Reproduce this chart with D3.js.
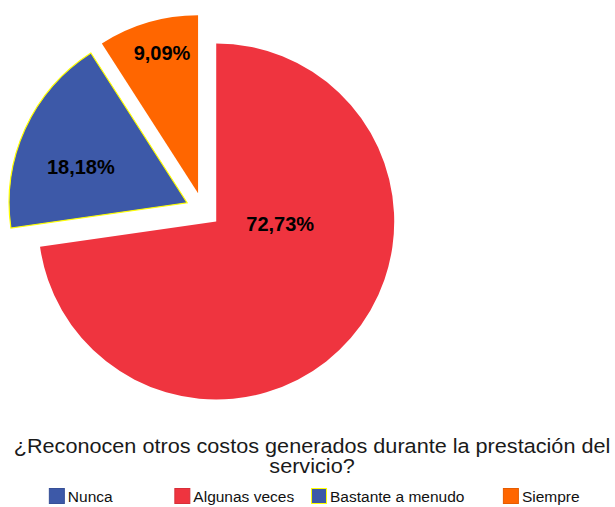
<!DOCTYPE html>
<html>
<head>
<meta charset="utf-8">
<script src="https://cdn.jsdelivr.net/npm/d3@7"></script>
<style>
    html, body { margin: 0; padding: 0; background: #fff; }
    svg { display: block; font-family: "Liberation Sans", Arial, sans-serif; }
</style>
</head>
<body>
<div id="chart"></div>
<script>
const categories = ["Nunca", "Algunas veces", "Bastante a menudo", "Siempre"];
const percentages = [0, 72.73, 18.18, 9.09];
const colours = ["#3d59a8", "#ef343f", "#3d59a8", "#ff6600"];
const outlines = [null, null, "#ffff00", null];
const titleLines = ["¿Reconocen otros costos generados durante la prestación del", "servicio?"];

// where each value label sits inside its slice: t = fraction of the slice angle, k = fraction of radius
const labelPlacement = [null, { t: 0.354, k: 0.36 }, { t: 0.41, k: 0.63 }, { t: 0.56, k: 0.815 }];

document.addEventListener("DOMContentLoaded", () => {
    const width = 615;
    const height = 507;
    const cx = 203;
    const cy = 210;
    const radius = 178;
    const explode = 17.5;

    const data = categories.map((name, i) => ({ name, value: percentages[i], i }));

    const svg = d3.select("#chart").append("svg")
        .attr("width", width)
        .attr("height", height)
        .attr("viewBox", [0, 0, width, height]);

    const pie = d3.pie().sort(null).value((d) => d.value);
    const arc = d3.arc().innerRadius(0).outerRadius(radius);
    const arcs = pie(data).filter((d) => d.value > 0);

    const offset = (d) => {
        const a = (d.startAngle + d.endAngle) / 2;
        return [explode * Math.sin(a), -explode * Math.cos(a)];
    };

    const slices = svg.append("g")
        .attr("transform", `translate(${cx}, ${cy})`)
        .selectAll("g")
        .data(arcs)
        .join("g")
        .attr("transform", (d) => `translate(${offset(d)})`);

    slices.append("path")
        .attr("d", arc)
        .attr("fill", (d) => colours[d.data.i])
        .attr("stroke", (d) => outlines[d.data.i] || "none")
        .attr("stroke-width", 1.2);

    const fmt = (v) => d3.format(".2f")(v).replace(".", ",") + "%";

    slices.append("text")
        .attr("transform", (d) => {
            const p = labelPlacement[d.data.i];
            const a = d.startAngle + p.t * (d.endAngle - d.startAngle);
            const r = p.k * radius;
            return `translate(${r * Math.sin(a)}, ${-r * Math.cos(a)})`;
        })
        .attr("text-anchor", "middle")
        .attr("dominant-baseline", "central")
        .attr("font-size", 20)
        .attr("font-weight", 700)
        .attr("fill", "#000")
        .text((d) => fmt(d.data.value));

    // the title face in the reference is a touch wider than Arial
    svg.append("g")
        .attr("transform", "translate(312, 0) scale(1.11, 1)")
        .selectAll("text")
        .data(titleLines)
        .join("text")
        .attr("x", 0)
        .attr("y", (d, i) => 453 + i * 20)
        .attr("text-anchor", "middle")
        .attr("font-size", 19.5)
        .attr("fill", "#1a1a1a")
        .text((d) => d);

    const legendX = d3.scaleBand()
        .domain(categories)
        .range([4, 618]);

    const items = svg.append("g")
        .selectAll("g")
        .data(data)
        .join("g");

    items.append("rect")
        .attr("x", 0.5)
        .attr("y", 488.5)
        .attr("width", 15)
        .attr("height", 15)
        .attr("fill", (d) => colours[d.i])
        .attr("stroke", (d) => outlines[d.i] || d3.color(colours[d.i]).darker(0.3))
        .attr("stroke-width", 1);

    items.append("text")
        .attr("x", 19)
        .attr("y", 502)
        .attr("font-size", 15.5)
        .attr("fill", "#111")
        .text((d) => d.name);

    items.attr("transform", function (d) {
        const w = 19 + d3.select(this).select("text").node().getComputedTextLength();
        const c = legendX(d.name) + legendX.bandwidth() / 2;
        return `translate(${c - w / 2}, 0)`;
    });
});
</script>
</body>
</html>
